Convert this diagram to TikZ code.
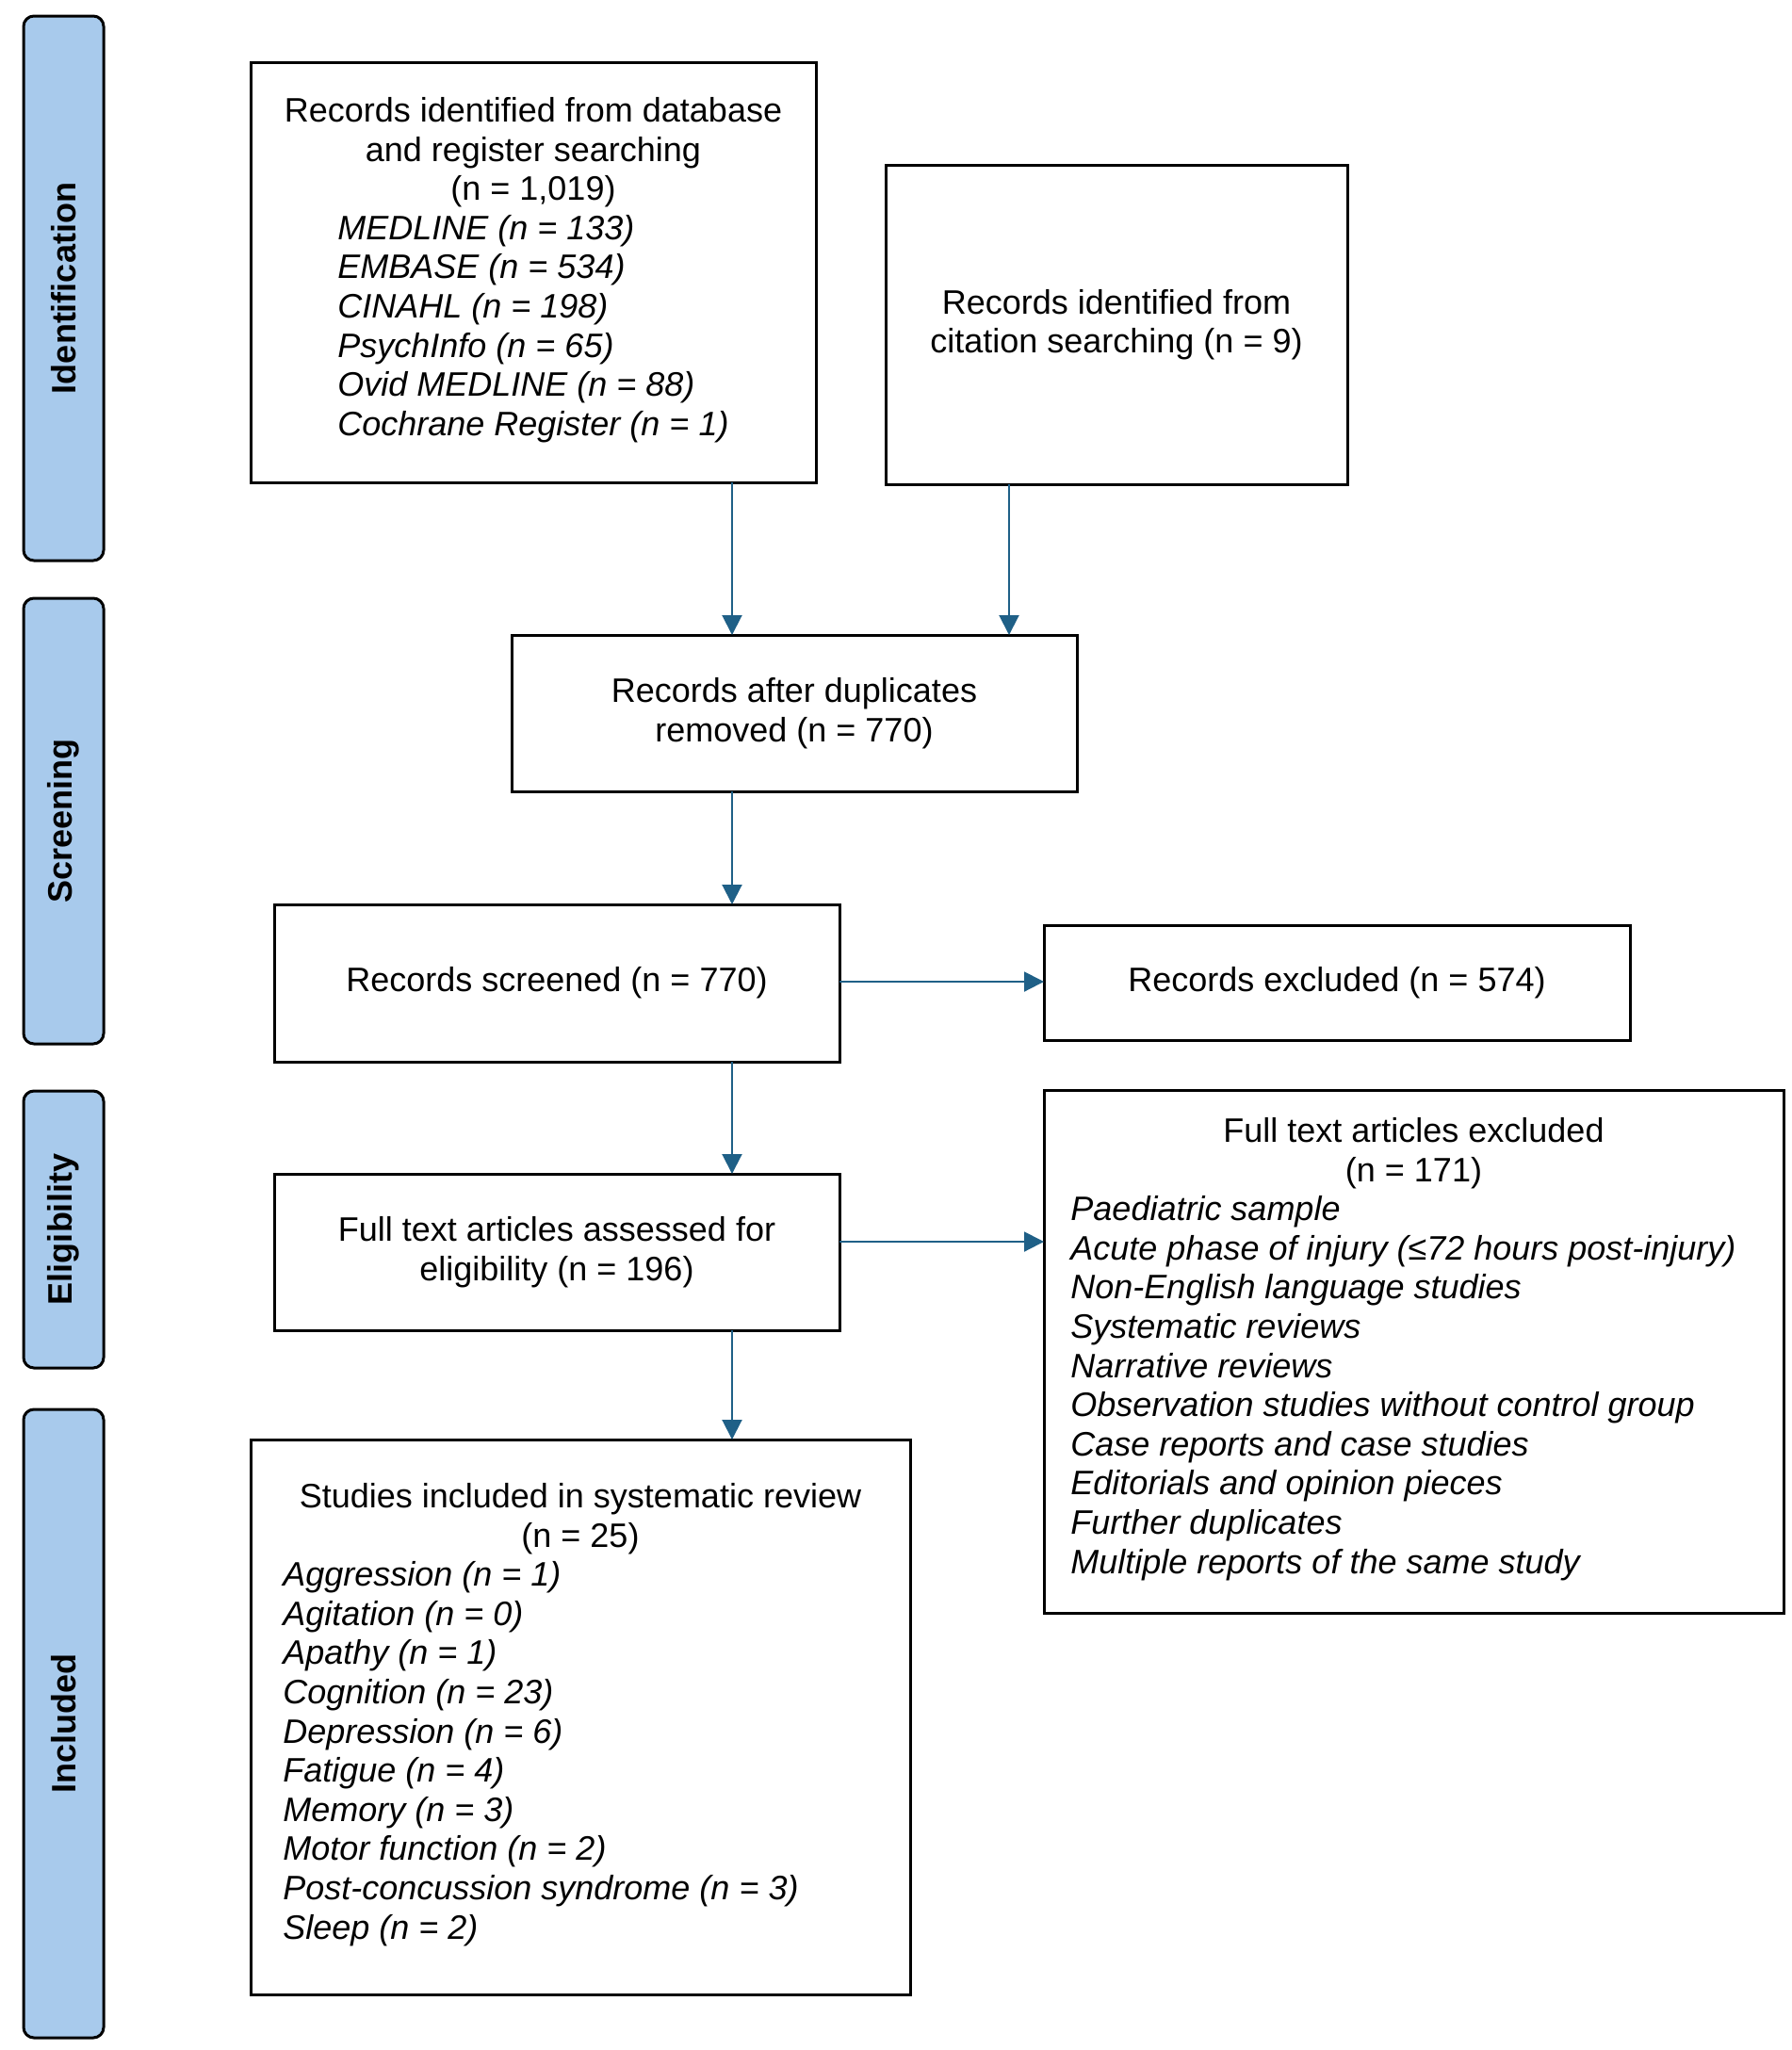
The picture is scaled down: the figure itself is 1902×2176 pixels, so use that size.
\documentclass[tikz,border=0pt]{standalone}
\usepackage{fontspec}
\setmainfont{Liberation Sans}
\usetikzlibrary{arrows.meta}
\definecolor{bandblue}{RGB}{168,202,236}
\definecolor{arrowblue}{RGB}{31,96,135}
\begin{document}
\begin{tikzpicture}[x=0.5pt,y=-0.5pt,
  box/.style={draw=black, line width=1.5pt, inner sep=0pt, outer sep=0pt, align=center,
    font=\fontsize{18}{20.8}\selectfont, fill=white},
  band/.style={draw=black, line width=1.5pt, fill=bandblue, rounded corners=5.5pt, rotate=90,
    minimum height=42.5pt, inner sep=0pt, outer sep=0pt, font=\fontsize{18}{20.8}\selectfont\bfseries},
  arr/.style={draw=arrowblue, line width=1pt, -{Triangle[length=10.5pt,width=10.5pt]}}]

\useasboundingbox (0,0) rectangle (1902,2176);

% phase bands
\node[band, minimum width=289pt]   (ident)  at (67.5,306)    {Identification};
\node[band, minimum width=236.5pt] (screen) at (67.5,871.5)  {Screening};
\node[band, minimum width=147pt]   (elig)   at (67.5,1305)   {Eligibility};
\node[band, minimum width=333.5pt] (incl)   at (67.5,1829.5) {Included};

% boxes
\node[box, minimum width=300pt, minimum height=223pt] (b1) at (566,289)
  {Records identified from database\\and register searching\\(n = 1,019)\\
   {\itshape\begin{tabular}[t]{@{}l@{}}MEDLINE (n = 133)\\EMBASE (n = 534)\\CINAHL (n = 198)\\PsychInfo (n = 65)\\Ovid MEDLINE (n = 88)\\Cochrane Register (n = 1)\end{tabular}}};

\node[box, minimum width=245pt, minimum height=169.5pt] (b2) at (1185,344.5)
  {Records identified from\\citation searching (n = 9)};

\node[box, minimum width=300pt, minimum height=83pt] (b3) at (843,757)
  {Records after duplicates\\removed (n = 770)};

\node[box, minimum width=300pt, minimum height=83.5pt] (b4) at (591,1043.5)
  {Records screened (n = 770)};

\node[box, minimum width=311pt, minimum height=61pt] (b5) at (1419,1043)
  {Records excluded (n = 574)};

\node[box, minimum width=300pt, minimum height=83pt] (b6) at (591,1329)
  {Full text articles assessed for\\eligibility (n = 196)};

\node[box, minimum width=392.5pt, minimum height=277.5pt] (b7) at (1500.5,1434.5)
  {Full text articles excluded\\(n = 171)\\
   \hspace*{-11pt}{\itshape\begin{tabular}[t]{@{}l@{}}Paediatric sample\\Acute phase of injury (≤72 hours post-injury)\\Non-English language studies\\Systematic reviews\\Narrative reviews\\Observation studies without control group\\Case reports and case studies\\Editorials and opinion pieces\\Further duplicates\\Multiple reports of the same study\end{tabular}}};

\node[box, minimum width=350pt, minimum height=294.5pt] (b8) at (616,1822.5)
  {Studies included in systematic review\\(n = 25)\\
   \hspace*{-42pt}{\itshape\begin{tabular}[t]{@{}l@{}}Aggression (n = 1)\\Agitation (n = 0)\\Apathy (n = 1)\\Cognition (n = 23)\\Depression (n = 6)\\Fatigue (n = 4)\\Memory (n = 3)\\Motor function (n = 2)\\Post-concussion syndrome (n = 3)\\Sleep (n = 2)\end{tabular}}};

% connector guides
\coordinate (xa) at (777,0);
\coordinate (xb) at (1071,0);
\coordinate (yc) at (0,1318);
\coordinate (yd) at (0,1042);

% connectors
\draw[arr] (b1.south -| xa) -- (b3.north -| xa);
\draw[arr] (b2.south -| xb) -- (b3.north -| xb);
\draw[arr] (b3.south -| xa) -- (b4.north -| xa);
\draw[arr] (b4.east |- yd) -- (b5.west |- yd);
\draw[arr] (b4.south -| xa) -- (b6.north -| xa);
\draw[arr] (b6.east |- yc) -- (b7.west |- yc);
\draw[arr] (b6.south -| xa) -- (b8.north -| xa);
\end{tikzpicture}
\end{document}
